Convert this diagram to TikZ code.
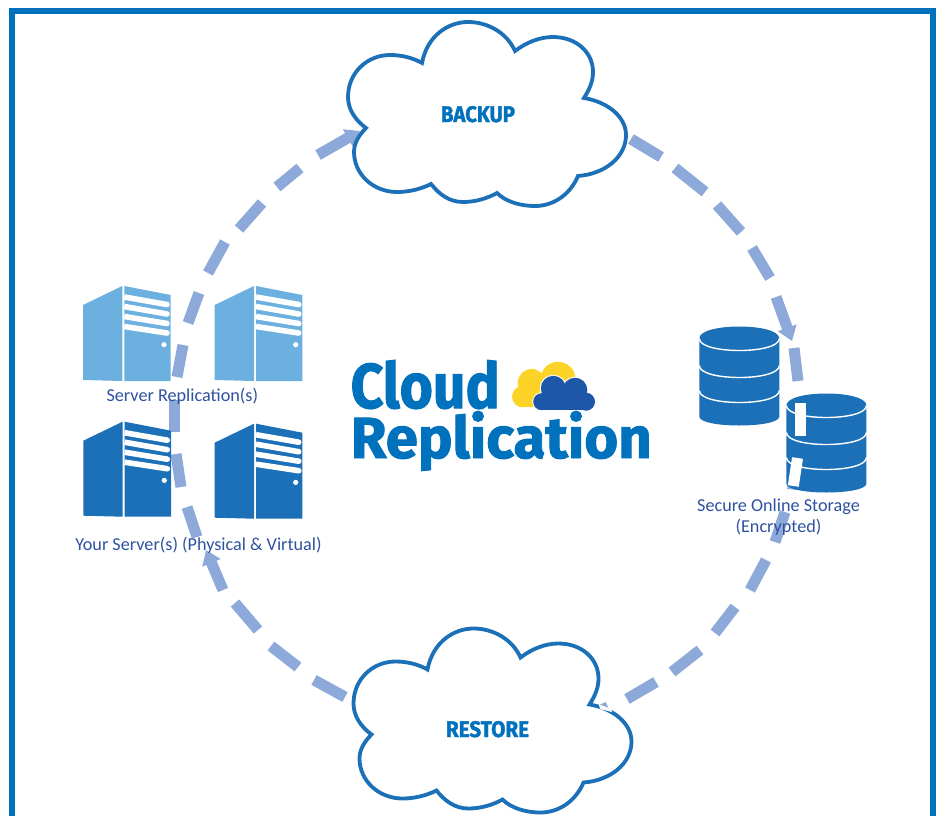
\documentclass[tikz,border=0pt]{standalone}
\usepackage{fontspec}
\usepackage{graphicx}
\setmainfont{Carlito}
\newfontfamily\titlefont[BoldFeatures={FakeBold=1.6}]{Fira Sans}
\usetikzlibrary{arrows.meta}
\definecolor{framec}{HTML}{0071BC}
\definecolor{dashc}{HTML}{8CA9D9}
\definecolor{darkb}{HTML}{1B70B8}
\definecolor{lightb}{HTML}{6CB0E0}
\definecolor{labelc}{HTML}{2F52A0}
\definecolor{logoy}{HTML}{FDD327}
\definecolor{logob}{HTML}{1F57A8}
\tikzset{
  x=1pt,y=-1pt,
  ringdash/.style={draw=dashc,line width=11pt},
  ringarrow/.style={ringdash,-{Triangle[length=14pt,width=19pt]}},
  caption/.style={text=labelc,font=\fontsize{18.2}{21}\selectfont,inner sep=0pt,align=center},
  heading/.style={text=framec,inner sep=0pt,font=\titlefont\bfseries},
  cloudshape/.pic={
    \draw[draw=darkb,line width=3.8pt,fill=white,line join=miter]
      (422,63) .. controls (427,36) and (448,22) .. (468,22)
      .. controls (488,22) and (507,33) .. (515,51)
      .. controls (527,42) and (540,37) .. (553,37)
      .. controls (576,37) and (593,52) .. (593,72)
      .. controls (593,82) and (589,90) .. (584,98)
      .. controls (608,102) and (626,117) .. (626,135)
      .. controls (626,157) and (605,174) .. (578,176)
      .. controls (570,195) and (553,206) .. (535,206)
      .. controls (519,206) and (505,201) .. (497,193)
      .. controls (488,198) and (476,202) .. (463,202)
      .. controls (449,202) and (439,194) .. (431,184)
      .. controls (421,189) and (409,192) .. (397,192)
      .. controls (373,192) and (354,174) .. (354,152)
      .. controls (354,143) and (359,135) .. (366,128)
      .. controls (355,120) and (348,109) .. (348,97)
      .. controls (348,73) and (367,55) .. (390,55)
      .. controls (402,55) and (413,58) .. (422,63) -- cycle;
  },
  serverbox/.pic={
    \fill[pic actions] (83,305) -- (122.3,286) -- (122.3,381) -- (83,380) -- cycle;
    \fill[pic actions] (124.3,286) -- (170.7,295) -- (170.7,381) -- (124.3,381) -- cycle;
    \foreach \a/\b in {297/304.5,306.5/314,316.5/323.5,326.5/333}
      \draw[white,line width=5.6pt] (124.3,\a) -- (167,\b);
    \foreach \a/\b in {297/304.5,306.5/314,316.5/323.5,326.5/333}
      \fill[white] (167,\b) circle (2.8);
    \fill[white] (164,344.7) circle (2.6);
  },
  dbstack/.pic={
    \fill[darkb] (-40,0) .. controls (-40,-16) and (40,-16) .. (40,0)
       -- (40,78) .. controls (40,90) and (-40,90) .. (-40,78) -- cycle;
    \foreach \h in {0,27,52}
      \draw[white,line width=1.4pt] (-40,\h) .. controls (-40,\h+16) and (40,\h+16) .. (40,\h);
  }
}
\begin{document}
\begin{tikzpicture}
\useasboundingbox (0,0) rectangle (941,816);
\fill[white] (0,0) rectangle (941,816);
\coordinate (frameA) at (12,816);
\coordinate (frameB) at (12,11);
\coordinate (frameC) at (933,11);
\coordinate (frameD) at (933,816);
\draw[framec,line width=6pt] (frameA) -- (frameB) -- (frameC) -- (frameD);

% ring of dashes
\foreach \n/\ax/\ay/\bx/\by in {
 1/631/139/661/157, 2/675/168/705/192, 3/717/205/741/232, 4/752/248/770/278,
 6/794/348/798/381, 8/785/512/775/542, 9/766/560/750/590, 10/735/607/715/633,
 11/700/650/672/672, 12/656/682/627/699, 13/345/697/314/680, 14/298/667/271/646,
 15/258/630/235/603, 17/197/537/187/507, 18/181/487/176/454, 19/174/432/174/400,
 20/177/377/183/345, 21/188/323/199/293, 22/208/273/225/242, 23/239/229/262/203,
 24/277/187/300/168}{
  \coordinate (d\n a) at (\ax,\ay);
  \coordinate (d\n b) at (\bx,\by);
  \draw[ringdash] (d\n a) -- (d\n b);
}
\coordinate (d5a) at (776,297);  \coordinate (d5b) at (792,341);
\draw[ringarrow] (d5a) -- (d5b);
\coordinate (d16a) at (223,590); \coordinate (d16b) at (206,550);
\draw[ringarrow] (d16a) -- (d16b);
\coordinate (d25a) at (318,155); \coordinate (d25b) at (360,131);
\draw[ringarrow] (d25a) -- (d25b);

% clouds
\pic at (0,0) {cloudshape};
\pic at (5.5,606.5) {cloudshape};
\fill[white] (598,701) -- (610,706) -- (612,712) -- (600,709) -- cycle;
\fill[dashc] (600,704.5) -- (605.7,702) -- (608.3,707.7) -- cycle;
\node[heading,anchor=base] (backup) at (478,122) {\resizebox{74pt}{16pt}{BACKUP}};
\node[heading,anchor=base] (restore) at (487.5,737) {\resizebox{83pt}{16pt}{RESTORE}};

% servers
\pic[fill=lightb] at (0,0) {serverbox};
\pic[fill=lightb] at (131.7,0) {serverbox};
\pic[fill=darkb] at (0.3,135.7) {serverbox};
\pic[fill=darkb] at (131.7,137.7) {serverbox};
\node[caption] (repl) at (182.3,396) {Server Replication(s)};
\node[caption] (yours) at (198.5,545) {Your Server(s) (Physical \& Virtual)};

% storage
\pic at (739.3,338.5) {dbstack};
\coordinate (w0a) at (793.2,484); \coordinate (w0b) at (792.6,489.5);
\draw[ringdash] (w0a) -- (w0b);
\pic at (826.4,405.5) {dbstack};
\coordinate (w1a) at (800,403); \coordinate (w1b) at (800,436);
\draw[white,line width=11pt] (w1a) -- (w1b);
\coordinate (w2a) at (797.5,458); \coordinate (w2b) at (793.3,486);
\draw[white,line width=11pt] (w2a) -- (w2b);
\node[caption] (store) at (778.5,517) {Secure Online Storage\\(Encrypted)};

% title
\node[heading,anchor=base west] (cloudword) at (350.5,408) {\resizebox{149pt}{48pt}{Cloud}};
\node[heading,anchor=base west] (replword) at (350.5,458) {\resizebox{301pt}{47pt}{Replication}};

% logo
\fill[logoy] (558,379.3) circle (17.5) (531.7,383) circle (14) (522.7,396.7) circle (10.7);
\fill[logoy] (522,385) rectangle (572,407.4);
\draw[white,line width=2pt,fill=white] (553.3,388.3) circle (12.5) (575,390) circle (12.3) (541.7,401.7) circle (8.5) (586,401.7) circle (9);
\fill[logob] (553.3,388.3) circle (12.5) (575,390) circle (12.3) (541.7,401.7) circle (8.5) (586,401.7) circle (9);
\fill[logob] (541.7,393) rectangle (586,410.2);
\end{tikzpicture}
\end{document}
